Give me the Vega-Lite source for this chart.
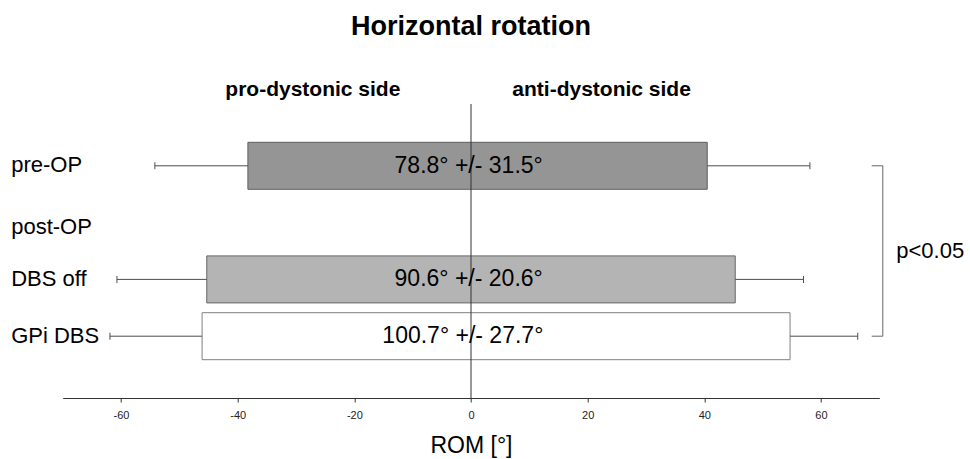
{
  "$schema": "https://vega.github.io/schema/vega-lite/v6.json",
  "autosize": {"type": "none"},
  "width": 816.6,
  "height": 294,
  "padding": {"left": 62.7, "top": 104, "right": 90.7, "bottom": 61},
  "background": "white",
  "config": {"view": {"stroke": null}, "font": "Liberation Sans"},
  "title": {"text": "Horizontal rotation", "fontSize": 27, "fontWeight": "bold", "font": "Liberation Sans", "anchor": "middle", "color": "black", "baseline": "alphabetic", "offset": 16},
  "data": {"values": [
    {"group": "pre-OP", "row": 1, "lo": -38.25, "hi": 40.5, "err_lo": -54.2, "err_hi": 58.1, "label": "78.8° +/- 31.5°", "label_x": -0.4},
    {"group": "DBS off", "row": 3, "lo": -45.3, "hi": 45.3, "err_lo": -60.7, "err_hi": 57.0, "label": "90.6° +/- 20.6°", "label_x": -0.4},
    {"group": "GPi DBS", "row": 4, "lo": -46.1, "hi": 54.7, "err_lo": -61.9, "err_hi": 66.3, "label": "100.7° +/- 27.7°", "label_x": -1.4}
  ]},
  "resolve": {"axis": {"x": "independent", "y": "independent"}},
  "layer": [
    {
      "mark": {"type": "bar", "orient": "horizontal", "size": 47, "strokeWidth": 1},
      "encoding": {
        "x": {"field": "lo", "type": "quantitative",
              "scale": {"domain": [-70, 70], "nice": false, "zero": false},
              "axis": {"orient": "bottom", "values": [-60, -40, -20, 0, 20, 40, 60], "labelExpr": "datum.value < 0 ? '-' + abs(datum.value) : '' + datum.value", "tickSize": 4, "tickColor": "#333", "domainColor": "#333", "labelFontSize": 11, "labelPadding": 7.5, "labelColor": "#222", "labelFont": "Liberation Sans", "grid": false, "labelFlush": false, "title": "ROM [°]", "titleFontSize": 23, "titleFontWeight": "normal", "titleFont": "Liberation Sans", "titleColor": "black", "titlePadding": 14}},
        "x2": {"field": "hi"},
        "y": {"field": "row", "type": "quantitative",
              "scale": {"domain": [0, 5], "reverse": true, "nice": false, "zero": false},
              "axis": {"values": [1, 2.08, 3, 4], "labelExpr": "datum.value == 1 ? 'pre-OP' : datum.value < 2.5 ? 'post-OP' : datum.value == 3 ? 'DBS off' : 'GPi DBS'", "labelAlign": "left", "labelPadding": 52, "ticks": false, "tickSize": 0, "domain": false, "grid": false, "title": null, "labelFontSize": 22, "labelBaseline": "middle", "labelColor": "black", "labelFont": "Liberation Sans", "labelOffset": -1}},
        "fill": {"field": "group", "type": "nominal", "scale": {"domain": ["pre-OP", "DBS off", "GPi DBS"], "range": ["#959595", "#b4b4b4", "#ffffff"]}, "legend": null},
        "stroke": {"field": "group", "type": "nominal", "scale": {"domain": ["pre-OP", "DBS off", "GPi DBS"], "range": ["#5e5e5e", "#666666", "#808080"]}, "legend": null}
      }
    },
    {
      "mark": {"type": "rule", "color": "#4d4d4d", "strokeWidth": 1},
      "encoding": {
        "x": {"field": "lo", "type": "quantitative", "axis": null},
        "x2": {"field": "err_lo"},
        "y": {"field": "row", "type": "quantitative", "axis": null}
      }
    },
    {
      "mark": {"type": "rule", "color": "#4d4d4d", "strokeWidth": 1},
      "encoding": {
        "x": {"field": "hi", "type": "quantitative", "axis": null},
        "x2": {"field": "err_hi"},
        "y": {"field": "row", "type": "quantitative", "axis": null}
      }
    },
    {
      "mark": {"type": "tick", "orient": "vertical", "color": "#4d4d4d", "size": 7, "thickness": 1, "opacity": 1},
      "encoding": {
        "x": {"field": "err_lo", "type": "quantitative", "axis": null},
        "y": {"field": "row", "type": "quantitative", "axis": null}
      }
    },
    {
      "mark": {"type": "tick", "orient": "vertical", "color": "#4d4d4d", "size": 7, "thickness": 1, "opacity": 1},
      "encoding": {
        "x": {"field": "err_hi", "type": "quantitative", "axis": null},
        "y": {"field": "row", "type": "quantitative", "axis": null}
      }
    },
    {
      "data": {"values": [{}]},
      "mark": {"type": "rule", "color": "#333333", "strokeWidth": 1},
      "encoding": {
        "x": {"datum": 0, "type": "quantitative", "axis": null}
      }
    },
    {
      "mark": {"type": "text", "fontSize": 23, "color": "black", "align": "center", "baseline": "middle", "font": "Liberation Sans"},
      "encoding": {
        "x": {"field": "label_x", "type": "quantitative",
              "axis": {"orient": "top", "values": [-27.2, 22.3], "labelExpr": "datum.value < 0 ? 'pro-dystonic side' : 'anti-dystonic side'", "ticks": false, "tickSize": 0, "domain": false, "grid": false, "title": null, "labelFontSize": 21, "labelFontWeight": "bold", "labelFont": "Liberation Sans", "labelColor": "black", "labelBaseline": "alphabetic", "labelPadding": 9, "labelFlush": false}},
        "y": {"field": "row", "type": "quantitative", "axis": null},
        "text": {"field": "label"}
      }
    },
    {
      "data": {"values": [{}]},
      "mark": {"type": "rule", "color": "#666666", "strokeWidth": 1},
      "encoding": {
        "x": {"datum": 70.6, "type": "quantitative", "axis": null},
        "y": {"datum": 1, "type": "quantitative", "axis": null},
        "y2": {"datum": 4}
      }
    },
    {
      "data": {"values": [{}]},
      "mark": {"type": "rule", "color": "#666666", "strokeWidth": 1},
      "encoding": {
        "x": {"datum": 68.7, "type": "quantitative", "axis": null},
        "x2": {"datum": 70.6},
        "y": {"datum": 1, "type": "quantitative", "axis": null}
      }
    },
    {
      "data": {"values": [{}]},
      "mark": {"type": "rule", "color": "#666666", "strokeWidth": 1},
      "encoding": {
        "x": {"datum": 68.7, "type": "quantitative", "axis": null},
        "x2": {"datum": 70.6},
        "y": {"datum": 4, "type": "quantitative", "axis": null}
      }
    },
    {
      "data": {"values": [{}]},
      "mark": {"type": "text", "fontSize": 22, "color": "black", "align": "left", "baseline": "middle", "font": "Liberation Sans"},
      "encoding": {
        "x": {"datum": 72.9, "type": "quantitative", "axis": null},
        "y": {"datum": 2.5, "type": "quantitative", "axis": null},
        "text": {"value": "p<0.05"}
      }
    }
  ]
}
